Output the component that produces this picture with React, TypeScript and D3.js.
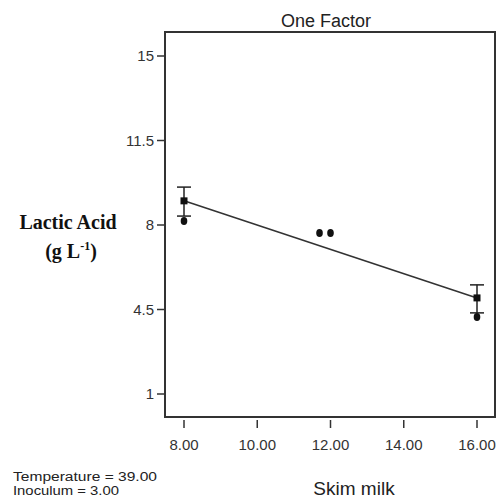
import React, { useEffect, useRef } from "react";
import * as d3 from "d3";

// valores
const xLevels = [8, 16];
const meanValues = [9.0, 4.98];
const errUpper = [9.57, 5.52];
const errLower = [8.37, 4.36];
const obsX = [8, 11.7, 12, 16];
const obsY = [8.17, 7.67, 7.67, 4.19];
const yTicks = [1, 4.5, 8, 11.5, 15];
const xTicks = [8, 10, 12, 14, 16];

const sans = "'Liberation Sans', Arial, sans-serif";
const serif = "'Liberation Serif', 'Times New Roman', serif";

const App = () => {
  const svgRef = useRef<SVGSVGElement>(null);

  useEffect(() => {
    const svg = d3.select(svgRef.current);
    svg.selectAll("*").remove();

    const frame = { left: 165, right: 495, top: 32, bottom: 417 };

    const x = d3.scaleLinear().domain([8, 16]).range([184, 477]);
    const y = d3.scaleLinear().domain([1, 15]).range([394, 56]);

    // Marco
    svg
      .append("rect")
      .attr("x", frame.left)
      .attr("y", frame.top)
      .attr("width", frame.right - frame.left)
      .attr("height", frame.bottom - frame.top)
      .attr("fill", "none")
      .attr("stroke", "#333")
      .attr("stroke-width", 2);

    // Título
    svg
      .append("text")
      .attr("x", 326)
      .attr("y", 27)
      .attr("text-anchor", "middle")
      .style("font-family", sans)
      .style("font-size", "18px")
      .attr("fill", "#222")
      .text("One Factor");

    // Eje Y
    const gy = svg.append("g");
    gy.selectAll("line")
      .data(yTicks)
      .enter()
      .append("line")
      .attr("x1", frame.left - 8)
      .attr("x2", frame.left)
      .attr("y1", (d) => y(d))
      .attr("y2", (d) => y(d))
      .attr("stroke", "#333")
      .attr("stroke-width", 1.5);
    gy.selectAll("text")
      .data(yTicks)
      .enter()
      .append("text")
      .attr("x", frame.left - 11)
      .attr("y", (d) => y(d))
      .attr("dy", "0.35em")
      .attr("text-anchor", "end")
      .style("font-family", sans)
      .style("font-size", "15px")
      .attr("fill", "#333")
      .text((d) => String(d));

    // Eje X
    const gx = svg.append("g");
    gx.selectAll("line")
      .data(xTicks)
      .enter()
      .append("line")
      .attr("x1", (d) => x(d))
      .attr("x2", (d) => x(d))
      .attr("y1", 420)
      .attr("y2", 428)
      .attr("stroke", "#333")
      .attr("stroke-width", 1.5);
    gx.selectAll("text")
      .data(xTicks)
      .enter()
      .append("text")
      .attr("x", (d) => x(d))
      .attr("y", 450)
      .attr("text-anchor", "middle")
      .style("font-family", sans)
      .style("font-size", "15px")
      .attr("fill", "#333")
      .text((d) => d.toFixed(2));

    // Línea de ajuste
    const line = d3
      .line<number>()
      .x((d) => x(d))
      .y((d, i) => y(meanValues[i]));
    svg
      .append("path")
      .attr("d", line(xLevels))
      .attr("fill", "none")
      .attr("stroke", "#333")
      .attr("stroke-width", 1.6);

    // Barras de error
    const eb = svg.append("g").attr("stroke", "#222").attr("stroke-width", 1.5);
    xLevels.forEach((lv, i) => {
      eb.append("line")
        .attr("x1", x(lv)).attr("x2", x(lv))
        .attr("y1", y(errUpper[i])).attr("y2", y(errLower[i]));
      [errUpper[i], errLower[i]].forEach((v) => {
        eb.append("line")
          .attr("x1", x(lv) - 7).attr("x2", x(lv) + 7)
          .attr("y1", y(v)).attr("y2", y(v));
      });
    });

    // Medias
    svg
      .append("g")
      .selectAll("rect")
      .data(xLevels)
      .enter()
      .append("rect")
      .attr("x", (d) => x(d) - 3.5)
      .attr("y", (d, i) => y(meanValues[i]) - 3.5)
      .attr("width", 7)
      .attr("height", 7)
      .attr("fill", "#111");

    // Observaciones
    svg
      .append("g")
      .selectAll("ellipse")
      .data(obsX)
      .enter()
      .append("ellipse")
      .attr("cx", (d) => x(d))
      .attr("cy", (d, i) => y(obsY[i]))
      .attr("rx", 3.3)
      .attr("ry", 4)
      .attr("fill", "#111");

    // Título eje Y
    svg
      .append("text")
      .attr("x", 68)
      .attr("y", 229)
      .attr("text-anchor", "middle")
      .style("font-family", serif)
      .style("font-weight", "bold")
      .style("font-size", "20px")
      .attr("fill", "#111")
      .text("Lactic Acid");
    const yl2 = svg
      .append("text")
      .attr("x", 71)
      .attr("y", 258)
      .attr("text-anchor", "middle")
      .style("font-family", serif)
      .style("font-weight", "bold")
      .style("font-size", "20px")
      .attr("fill", "#111");
    yl2.append("tspan").text("(g L");
    yl2.append("tspan").attr("dy", -8).style("font-size", "12px").text("-1");
    yl2.append("tspan").attr("dy", 8).text(")");

    // Título eje X
    svg
      .append("text")
      .attr("x", 354)
      .attr("y", 495)
      .attr("text-anchor", "middle")
      .style("font-family", sans)
      .style("font-size", "19px")
      .attr("fill", "#222")
      .text("Skim milk");

    // Notas
    svg
      .append("text")
      .attr("x", 13)
      .attr("y", 481)
      .attr("textLength", 144)
      .attr("lengthAdjust", "spacingAndGlyphs")
      .style("font-family", sans)
      .style("font-size", "12.5px")
      .attr("fill", "#222")
      .text("Temperature = 39.00");
    svg
      .append("text")
      .attr("x", 13)
      .attr("y", 495)
      .attr("textLength", 106)
      .attr("lengthAdjust", "spacingAndGlyphs")
      .style("font-family", sans)
      .style("font-size", "12.5px")
      .attr("fill", "#222")
      .text("Inoculum = 3.00");
  }, []);

  return (
    <svg
      ref={svgRef}
      width={504}
      height={503}
      style={{ position: "absolute", left: 0, top: 0, background: "#fff" }}
    ></svg>
  );
};

export default App;
